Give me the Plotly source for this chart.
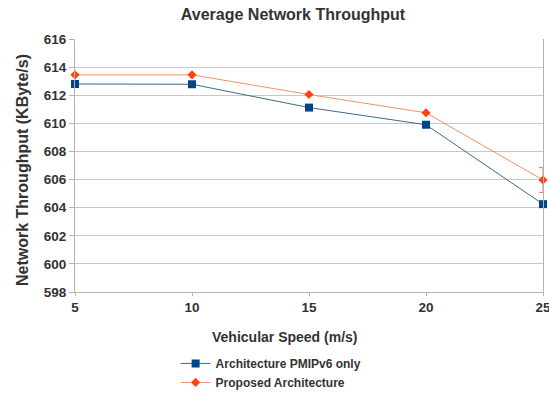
import plotly.graph_objects as go

speed = [5, 10, 15, 20, 25]
pmipv6_only = [612.8, 612.78, 611.12, 609.9, 604.25]
proposed = [613.45, 613.45, 612.05, 610.75, 605.97]
proposed_err = [0, 0, 0, 0, 0.88]
y_ticks = [598, 600, 602, 604, 606, 608, 610, 612, 614, 616]
x_ticks = [5, 10, 15, 20, 25]

FONT = "Liberation Sans"
TXT = "#333333"
BLUE = "#004586"
ORANGE = "#ff420e"

fig = go.Figure()
fig.add_trace(go.Scatter(
    x=speed, y=pmipv6_only, mode="lines+markers", name="Architecture PMIPv6 only",
    legendgroup="a",
    line=dict(color="#3d6b8c", width=1),
    marker=dict(symbol="square", size=8, color=BLUE),
    cliponaxis=False,
))
fig.add_trace(go.Scatter(
    x=speed, y=proposed, mode="lines+markers", name="Proposed Architecture",
    legendgroup="b",
    line=dict(color="#f0906a", width=1),
    marker=dict(symbol="diamond", size=7, color=ORANGE),
    error_y=dict(type="data", array=proposed_err, visible=True,
                 color="#e07a55", thickness=1, width=4),
    cliponaxis=False,
))

fig.update_layout(
    width=549, height=397,
    margin=dict(l=75, r=6, t=39, b=105, autoexpand=False),
    paper_bgcolor="white", plot_bgcolor="white",
    font=dict(family=FONT, color=TXT),
    title=dict(text="Average Network Throughput", x=293/549, xanchor="center",
               y=1-14/397, yanchor="middle", xref="container", yref="container",
               font=dict(family=FONT, size=16, color=TXT, weight="bold")),
    showlegend=True,
    legend=dict(orientation="v", x=0.215, xanchor="left", y=-0.225, yanchor="top",
                font=dict(family=FONT, size=12, color=TXT, weight="bold"),
                itemwidth=30, tracegroupgap=0, bgcolor="rgba(0,0,0,0)"),
    annotations=[
        dict(text="Vehicular Speed (m/s)", xref="paper", yref="paper",
             x=(285-75)/468, y=-(337-292)/253, xanchor="center", yanchor="middle",
             showarrow=False, font=dict(family=FONT, size=14, color=TXT, weight="bold")),
        dict(text="Network Throughput (KByte/s)", xref="paper", yref="paper",
             x=-(75-22)/468, y=(292-170)/253, xanchor="center", yanchor="middle",
             textangle=-90, showarrow=False,
             font=dict(family=FONT, size=16, color=TXT, weight="bold")),
    ],
)
fig.update_xaxes(
    range=[5, 25], tickvals=x_ticks, showgrid=False, zeroline=False, automargin=False,
    showline=True, linecolor="#b3b3b3", linewidth=1,
    ticks="outside", ticklen=3, tickcolor="#b3b3b3", ticklabeloverflow="allow",
    tickfont=dict(family=FONT, size=13.5, color=TXT, weight="bold"),
)
fig.update_yaxes(
    range=[598, 616], tickvals=y_ticks, showgrid=True, gridcolor="#c8c8c8", gridwidth=1,
    zeroline=False, showline=True, linecolor="#b3b3b3", linewidth=1, mirror=True,
    automargin=False,
    ticks="outside", ticklen=5, tickcolor="#b3b3b3",
    tickfont=dict(family=FONT, size=13.5, color=TXT, weight="bold"),
)

fig.write_html("out.html", config={"displayModeBar": False},
               post_script="document.body.style.margin='0';document.body.style.padding='0';")
